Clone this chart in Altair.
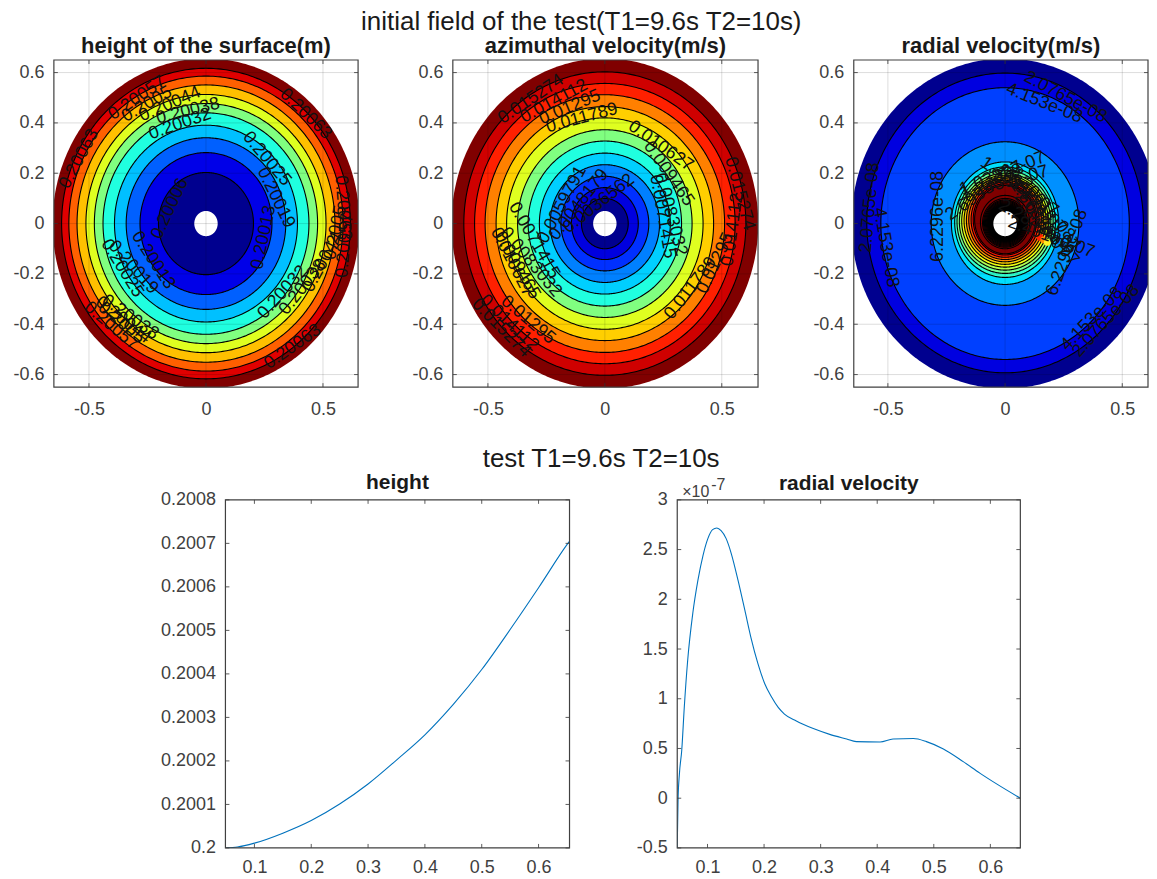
import math
import altair as alt
import pandas as pd

alt.data_transformers.disable_max_rows()

FONT = "Liberation Sans"
INK = "#404040"
BLUE = "#0072BD"

MAIN_TITLE = "initial field of the test(T1=9.6s T2=10s)"
LOWER_TITLE = "test T1=9.6s T2=10s"

X_TICKS = [-0.5, 0, 0.5]
Y_TICKS = [-0.6, -0.4, -0.2, 0, 0.2, 0.4, 0.6]
HOLE = 0.05
OUTER = 0.656

# ---------- height field
H_COLORS = ["#800000", "#e00000", "#ff6000", "#ffc000", "#dfff20", "#80ff80",
            "#20ffdf", "#00c0ff", "#0060ff", "#0000e8", "#00008f"]
H_RADII = [OUTER, 0.617, 0.586, 0.551, 0.513, 0.477, 0.44, 0.391, 0.341, 0.282, 0.203]
H_TEXT = ["0.20063", "0.20057", "0.2005", "0.20044", "0.20038", "0.20032", "0.20063", "0.20025",
          "0.20019", "0.20006", "0.20013", "0.20063", "0.20057", "0.2005", "0.20044", "0.20038",
          "0.20032", "0.20025", "0.20019", "0.20013", "0.20038", "0.20044", "0.2005", "0.20057", "0.20063"]
H_X = [-0.542, -0.294, -0.252, -0.154, -0.077, -0.111, 0.426, 0.26, 0.299, -0.154, 0.247, 0.584, 0.593,
       0.554, 0.499, 0.414, 0.328, -0.358, -0.311, -0.226, -0.324, -0.354, -0.362, -0.405, 0.371]
H_Y = [0.257, 0.498, 0.474, 0.474, 0.447, 0.395, 0.435, 0.257, 0.103, 0.059, -0.055, 0.063, -0.087,
       -0.036, -0.154, -0.253, -0.273, -0.178, -0.174, -0.146, -0.372, -0.383, -0.395, -0.407, -0.49]
H_ANGLE = [-62, -34, -30, -23, -14, -19, 44, 50, 64, -65, -78, 86, -85, -78, -62, -52, -48, 58, 48, 57,
           35, 38, 40, 40, -35]

# ---------- azimuthal velocity field
A_COLORS = ["#800000", "#cf0000", "#ff2000", "#ff8000", "#ffcf00", "#dfff20", "#80ff80",
            "#20ffdf", "#00cfff", "#0080ff", "#0030ff", "#0000df", "#00008f"]
A_RADII = [OUTER, 0.603, 0.557, 0.512, 0.465, 0.42, 0.373, 0.328, 0.28, 0.234, 0.188, 0.143, 0.1]
A_TEXT = ["0.015274", "0.014112", "0.01295", "0.011789", "0.010627", "0.009465", "0.0083032", "0.0071415",
          "0.0059791", "0.0048179", "0.0036562", "0.0071415", "0.0083032", "0.009465", "0.010627",
          "0.01295", "0.014112", "0.015274", "0.011789", "0.01295", "0.014112", "0.015274"]
A_X = [-0.316, -0.217, -0.149, -0.098, 0.239, 0.273, 0.281, 0.247, -0.183, -0.111, -0.026, -0.303, -0.316,
       -0.375, -0.397, -0.328, -0.409, -0.444, 0.367, 0.473, 0.546, 0.576]
A_Y = [0.494, 0.486, 0.462, 0.419, 0.308, 0.198, 0.036, 0.028, 0.075, 0.075, 0.079, -0.067, -0.154,
       -0.166, -0.154, -0.383, -0.395, -0.415, -0.257, -0.158, -0.024, 0.119]
A_ANGLE = [-34, -28, -23, -15, 35, 55, 75, 80, -62, -52, -38, 60, 50, 60, 63, 40, 43, 45, -52, -65, -82, 75]

# ---------- radial velocity field: level outlines, left/right, top and bottom reach
R_COLORS = ["#00008f", "#0000e0", "#0040ff", "#0090ff", "#00dfff", "#30ffcf", "#70ff8f", "#afff50",
            "#efff10", "#ffcf00", "#ff8f00", "#ff5000", "#ff1000", "#cf0000", "#800000",
            "#800000", "#800000", "#700000", "#600000", "#500000", "#300000", "#100000", "#000000",
            "#000000", "#000000", "#000000"]
R_SIDE = [OUTER, 0.59, 0.53, 0.315, 0.229, 0.215, 0.205, 0.195, 0.185, 0.175, 0.165, 0.155, 0.145, 0.136,
          0.13, 0.105, 0.096, 0.092, 0.088, 0.084, 0.08, 0.076, 0.072, 0.068, 0.064, 0.06]
R_TOP = [OUTER, 0.598, 0.54, 0.325, 0.245, 0.225, 0.212, 0.2, 0.192, 0.185, 0.178, 0.172, 0.165, 0.158,
         0.152, 0.112, 0.1, 0.094, 0.09, 0.086, 0.082, 0.078, 0.074, 0.07, 0.066, 0.062]
R_BOTTOM = [OUTER, 0.593, 0.54, 0.325, 0.242, 0.214, 0.198, 0.185, 0.173, 0.162, 0.152, 0.143, 0.134,
            0.125, 0.12, 0.1, 0.094, 0.09, 0.086, 0.082, 0.078, 0.074, 0.07, 0.066, 0.062, 0.058]
R_TEXT = ["2.0765e-08", "4.153e-08", "6.2296e-08", "2.0765e-08", "4.153e-08", "6.2296e-08", "4.153e-08",
          "2.0765e-08", "1.0383e-07", "8.3061e-08", "1.2459e-07", "1.4535e-07", "1.6612e-07", "1.8689e-07",
          "2.0765e-07", "2.2842e-07", "2.4918e-07", "2.6995e-07"]
R_X = [0.257, 0.167, -0.288, -0.577, -0.509, 0.265, 0.371, 0.431, -0.011, 0.159, -0.003, 0.061, 0.112,
       0.146, 0.176, 0.146, 0.197, -0.088]
R_Y = [0.502, 0.478, 0.028, 0.063, -0.095, -0.115, -0.379, -0.387, 0.198, 0.079, 0.162, 0.146, 0.099,
       0.02, -0.02, -0.012, -0.055, 0.13]
R_ANGLE = [28, 22, -90, -85, 80, -70, -46, -48, -22, 50, -15, 35, 45, 55, 50, 30, 20, -35]
NOTCH_X = [0.15, 0.165, 0.18]
NOTCH_Y = [-0.055, -0.065, -0.075]
NOTCH_COLOR = ["#ff2000", "#ff9000", "#ffef20"]

# ---------- profiles
HEIGHT_R = [0.05, 0.07, 0.1, 0.15, 0.2, 0.25, 0.3, 0.35, 0.4, 0.45, 0.5, 0.55, 0.6, 0.65, 0.6545]
HEIGHT_V = [0.2, 0.200002, 0.200011, 0.200034, 0.200063, 0.200101, 0.200147, 0.200202, 0.20026, 0.20033,
            0.20041, 0.200502, 0.200598, 0.200697, 0.200705]
RADIAL_R = [0.0465, 0.048, 0.0504, 0.0545, 0.059, 0.065, 0.074, 0.083, 0.092, 0.1006, 0.109, 0.1165, 0.124,
            0.133, 0.142, 0.154, 0.166, 0.177, 0.189, 0.201, 0.213, 0.225, 0.236, 0.257, 0.287, 0.316, 0.346,
            0.363, 0.405, 0.428, 0.464, 0.487, 0.517, 0.552, 0.582, 0.611, 0.653]
RADIAL_V = [-0.49, 0.0, 0.25, 0.485, 0.92, 1.39, 1.86, 2.19, 2.44, 2.61, 2.7, 2.717, 2.69, 2.61, 2.46, 2.19,
            1.89, 1.61, 1.355, 1.154, 1.02, 0.913, 0.846, 0.776, 0.7, 0.642, 0.595, 0.569, 0.565, 0.595, 0.6,
            0.569, 0.495, 0.368, 0.25, 0.144, 0.0]
P_X_TICKS = [0.1, 0.2, 0.3, 0.4, 0.5, 0.6]
HEIGHT_TICKS = [0.2, 0.2001, 0.2002, 0.2003, 0.2004, 0.2005, 0.2006, 0.2007, 0.2008]
RADIAL_TICKS = [-0.5, 0, 0.5, 1, 1.5, 2, 2.5, 3]


def ring_frame(colors, side, top, bottom):
    rows = []
    n = len(colors)
    for i in range(n + 1):
        if i < n:
            rx, t, b, fill = side[i], top[i], bottom[i], colors[i]
            edge = "transparent" if i == 0 else "#000000"
        else:
            rx, t, b, fill, edge = HOLE, HOLE, HOLE, "#ffffff", "transparent"
        for k in range(181):
            th = math.pi * k / 180
            rows.append({
                "ring": i,
                "x": rx * math.cos(th),
                "y": (t - b) / 2 + (t + b) / 2 * math.sin(th),
                "y2": (t - b) / 2 - (t + b) / 2 * math.sin(th),
                "fill": fill,
                "edge": edge,
            })
    return pd.DataFrame(rows)


def frame_layers(w, h, sx, sy, ax, ay, xt, yt, grid):
    one = pd.DataFrame({"a": [0]})
    dx = pd.DataFrame({"v": xt})
    dy = pd.DataFrame({"v": yt})
    X = alt.X("v:Q", scale=sx, axis=ax)
    Y = alt.Y("v:Q", scale=sy, axis=ay)
    out = []
    if grid:
        out.append(alt.Chart(dx).mark_rule(color="#000000", opacity=0.14, strokeWidth=1).encode(
            x=X, y=alt.value(0), y2=alt.value(h)))
        out.append(alt.Chart(dy).mark_rule(color="#000000", opacity=0.14, strokeWidth=1).encode(
            y=Y, x=alt.value(0), x2=alt.value(w)))
    tick = dict(color="#333333", strokeWidth=0.8)
    L = 4
    out.append(alt.Chart(dx).mark_rule(**tick).encode(x=X, y=alt.value(0), y2=alt.value(L)))
    out.append(alt.Chart(dx).mark_rule(**tick).encode(x=X, y=alt.value(h - L), y2=alt.value(h)))
    out.append(alt.Chart(dy).mark_rule(**tick).encode(y=Y, x=alt.value(0), x2=alt.value(L)))
    out.append(alt.Chart(dy).mark_rule(**tick).encode(y=Y, x=alt.value(w - L), x2=alt.value(w)))
    out.append(alt.Chart(one).mark_rect(fill="#ffffff", fillOpacity=0, stroke=INK, strokeWidth=1.2).encode(
        x=alt.value(0), x2=alt.value(w), y=alt.value(0), y2=alt.value(h)))
    return out


def axes(values, expr, orient, pad, extent=None):
    kw = dict(values=values, title="", grid=False, labels=True, tickSize=0, tickOpacity=0, domainOpacity=0,
              labelFont=FONT, labelFontSize=18, labelColor=INK, labelPadding=pad, labelExpr=expr,
              orient=orient, labelOverlap=False)
    if extent is not None:
        kw.update(minExtent=extent, maxExtent=extent)
    return alt.Axis(**kw)


DEC1 = "'' + round(datum.value*10)/10"
DEC4 = "'' + round(datum.value*10000)/10000"


def field_panel(title, w, h, xdom, extent, colors, side, top, bottom, tx, ty, tt, ta, extra=None):
    sx = alt.Scale(domain=xdom, nice=False, zero=False)
    sy = alt.Scale(domain=[-0.65, 0.65], nice=False, zero=False)
    ax = axes(X_TICKS, DEC1, "bottom", 13)
    ay = axes(Y_TICKS, DEC1, "left", 10, extent)
    rings = alt.Chart(ring_frame(colors, side, top, bottom)).mark_area(clip=True, strokeWidth=1.1).encode(
        x=alt.X("x:Q", scale=sx, axis=ax),
        y=alt.Y("y:Q", scale=sy, axis=ay),
        y2="y2:Q",
        fill=alt.Fill("fill:N", scale=None),
        stroke=alt.Stroke("edge:N", scale=None),
        detail="ring:O",
    )
    lab = pd.DataFrame({"x": tx, "y": ty, "t": tt, "a": [v % 360 for v in ta]})
    texts = alt.Chart(lab).mark_text(font=FONT, fontSize=18, color="#111111", clip=True).encode(
        x=alt.X("x:Q", scale=sx, axis=ax),
        y=alt.Y("y:Q", scale=sy, axis=ay),
        text="t:N",
        angle=alt.Angle("a:Q", scale=None),
    )
    layers = [rings]
    if extra is not None:
        d = pd.DataFrame(extra)
        layers.append(alt.Chart(d).mark_point(filled=True, opacity=1, size=45).encode(
            x=alt.X("x:Q", scale=sx, axis=ax),
            y=alt.Y("y:Q", scale=sy, axis=ay),
            color=alt.Color("c:N", scale=None)))
    layers.append(texts)
    layers += frame_layers(w, h, sx, sy, ax, ay, X_TICKS, Y_TICKS, True)
    return alt.layer(*layers).properties(
        width=w, height=h,
        title=alt.TitleParams(title, font=FONT, fontSize=22, fontWeight="bold", color="#1a1a1a", offset=1))


def line_panel(title, w, h, xdom, ydom, xs, ys, yt, yexpr, extent, toff, extra=()):
    sx = alt.Scale(domain=xdom, nice=False, zero=False)
    sy = alt.Scale(domain=ydom, nice=False, zero=False)
    ax = axes(P_X_TICKS, DEC1, "bottom", 11)
    ay = axes(yt, yexpr, "left", 10, extent)
    line = alt.Chart(pd.DataFrame({"r": xs, "v": ys})).mark_line(color=BLUE, strokeWidth=1.1, clip=True,
                                                                 interpolate="monotone").encode(
        x=alt.X("r:Q", scale=sx, axis=ax),
        y=alt.Y("v:Q", scale=sy, axis=ay),
    )
    layers = [line] + frame_layers(w, h, sx, sy, ax, ay, P_X_TICKS, yt, False) + list(extra)
    return alt.layer(*layers).properties(
        width=w, height=h,
        title=alt.TitleParams(title, font=FONT, fontSize=21, fontWeight="bold", color="#1a1a1a", offset=toff))


p1 = field_panel("height of the surface(m)", 305, 328, [-0.65, 0.65], 46,
                 H_COLORS, H_RADII, H_RADII, H_RADII, H_X, H_Y, H_TEXT, H_ANGLE)
p2 = field_panel("azimuthal velocity(m/s)", 306, 328, [-0.65, 0.655], 46,
                 A_COLORS, A_RADII, A_RADII, A_RADII, A_X, A_Y, A_TEXT, A_ANGLE)
p3 = field_panel("radial velocity(m/s)", 295, 328, [-0.6455, 0.6098], 47,
                 R_COLORS, R_SIDE, R_TOP, R_BOTTOM, R_X, R_Y, R_TEXT, R_ANGLE,
                 extra={"x": NOTCH_X, "y": NOTCH_Y, "c": NOTCH_COLOR})

one = pd.DataFrame({"a": [0]})
exp_a = alt.Chart(one).mark_text(font=FONT, fontSize=16, color=INK, align="left", baseline="alphabetic").encode(
    x=alt.value(5), y=alt.value(-3), text=alt.value("×10"))
exp_b = alt.Chart(one).mark_text(font=FONT, fontSize=16, color=INK, align="left", baseline="alphabetic").encode(
    x=alt.value(34), y=alt.value(-10), text=alt.value("-7"))

b1 = line_panel("height", 345, 349, [0.049, 0.6545], [0.2, 0.2008], HEIGHT_R, HEIGHT_V, HEIGHT_TICKS, DEC4, 60, -2)
b2 = line_panel("radial velocity", 344, 349, [0.0465, 0.653], [-0.5, 3], RADIAL_R, RADIAL_V, RADIAL_TICKS, DEC1, 59,
                -17, extra=(exp_a, exp_b))
spacer = alt.Chart(one).mark_text(opacity=0).encode(
    x=alt.value(0), y=alt.value(0), text=alt.value("")).properties(width=58, height=349)

top_row = alt.hconcat(p1, p2, p3, spacing=48).properties(
    title=alt.TitleParams(MAIN_TITLE, font=FONT, fontSize=26, fontWeight="normal", color="#1a1a1a",
                          anchor="middle", dx=3, offset=0))
low_row = alt.hconcat(spacer, b1, b2, spacing=48).properties(
    title=alt.TitleParams(LOWER_TITLE, font=FONT, fontSize=26, fontWeight="normal", color="#1a1a1a",
                          anchor="start", dx=430, offset=0))

chart = alt.vconcat(top_row, low_row, spacing=28).properties(padding=0).configure_view(strokeWidth=0)
chart.save("out.html", embed_options={"renderer": "svg", "actions": False})
